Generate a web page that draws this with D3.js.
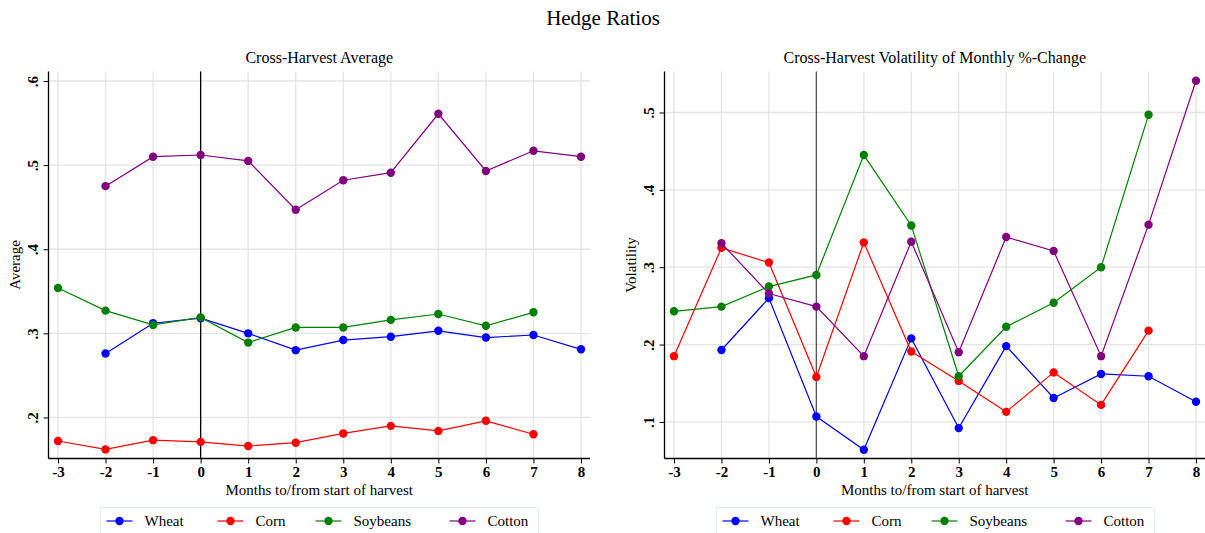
<!DOCTYPE html>
<html><head><meta charset="utf-8">
<script src="https://cdn.jsdelivr.net/npm/d3@7"></script>
<style>body{margin:0;background:#fff;} svg, svg text{font-family:"Liberation Serif","Times New Roman",Tinos,serif !important;}</style>
</head><body>
<svg id="c" width="1205" height="533"></svg>
<script>
const months = [-3,-2,-1,0,1,2,3,4,5,6,7,8];
const seriesNames = ["Wheat","Corn","Soybeans","Cotton"];
const seriesColors = ["#0000ff","#ff0000","#008000","#800080"];
// Cross-Harvest Average
const avgWheat    = [null,0.276,0.312,0.318,0.300,0.280,0.292,0.296,0.303,0.295,0.298,0.281];
const avgCorn     = [0.172,0.162,0.173,0.171,0.166,0.170,0.181,0.190,0.184,0.196,0.180,null];
const avgSoybeans = [0.354,0.327,0.310,0.319,0.289,0.307,0.307,0.316,0.323,0.309,0.325,null];
const avgCotton   = [null,0.475,0.510,0.512,0.505,0.447,0.482,0.491,0.561,0.493,0.517,0.510];
// Cross-Harvest Volatility of Monthly %-Change
const volWheat    = [null,0.193,0.260,0.107,0.064,0.208,0.092,0.198,0.131,0.162,0.159,0.126];
const volCorn     = [0.185,0.325,0.306,0.158,0.332,0.191,0.153,0.113,0.164,0.122,0.218,null];
const volSoybeans = [0.243,0.249,0.275,0.290,0.445,0.354,0.159,0.223,0.254,0.300,0.497,null];
const volCotton   = [null,0.331,0.266,0.249,0.185,0.333,0.190,0.339,0.321,0.185,0.355,0.541];
const avgTicks = [0.2,0.3,0.4,0.5,0.6];
const volTicks = [0.1,0.2,0.3,0.4,0.5];
const monthLabels = ["-3","-2","-1","0","1","2","3","4","5","6","7","8"];
const FONT = "Liberation Serif";
const fmt = v => String(Math.round(v*10)/10).replace(/^0/,"");

const svg = d3.select("#c");
svg.append("text").attr("x",603).attr("y",25).attr("text-anchor","middle")
  .attr("font-family",FONT).attr("font-size",21).text("Hedge Ratios");

function panel(opt){
  const g = svg.append("g").attr("font-family",FONT);
  const x = d3.scaleLinear().domain([-3,8]).range([opt.x0+9.5, opt.x1-9]);
  const y = d3.scaleLinear().domain(opt.ydom).range([opt.yb, opt.yt]);
  // grid
  g.append("g").selectAll("line").data(months).join("line")
    .attr("x1",d=>x(d)).attr("x2",d=>x(d)).attr("y1",opt.yt).attr("y2",opt.yb)
    .attr("stroke","#e4e4e4").attr("stroke-width",1.3);
  g.append("g").selectAll("line").data(opt.ticks).join("line")
    .attr("x1",opt.x0).attr("x2",opt.x1).attr("y1",d=>y(d)).attr("y2",d=>y(d))
    .attr("stroke","#e4e4e4").attr("stroke-width",1.3);
  // axes
  const xa = g.append("g").attr("transform",`translate(0,${opt.yb})`)
    .call(d3.axisBottom(x).tickValues(months).tickSize(5).tickFormat((d,i)=>monthLabels[i]));
  xa.attr("font-family",FONT);
  xa.select(".domain").attr("d",`M${opt.x0},0H${opt.x1}`).attr("stroke","#000").attr("stroke-width",1.3);
  xa.selectAll(".tick line").attr("stroke","#000");
  xa.selectAll(".tick text").attr("font-size",15).attr("font-family",FONT).attr("font-weight","bold").attr("dy","0.72em").attr("y",8);
  const ya = g.append("g").attr("transform",`translate(${opt.x0},0)`)
    .call(d3.axisLeft(y).tickValues(opt.ticks).tickSize(5).tickFormat(fmt));
  ya.attr("font-family",FONT);
  ya.select(".domain").attr("d",`M0,${opt.yt}V${opt.yb}`).attr("stroke","#000").attr("stroke-width",1.3);
  ya.selectAll(".tick line").attr("stroke","#000");
  ya.selectAll(".tick text").attr("font-size",15).attr("font-family",FONT).attr("font-weight","bold")
    .attr("x",null).attr("dy",null).attr("text-anchor","middle")
    .attr("transform","translate(-14,0) rotate(-90)").attr("dominant-baseline","middle");
  // zero line
  g.append("line").attr("x1",x(0)).attr("x2",x(0)).attr("y1",opt.yt).attr("y2",opt.yb)
    .attr("stroke",opt.zeroColor).attr("stroke-width",1.3);
  // titles
  g.append("text").attr("x",(opt.x0+opt.x1)/2).attr("y",63).attr("text-anchor","middle")
    .attr("font-size",16).text(opt.title);
  g.append("text").attr("x",(opt.x0+opt.x1)/2).attr("y",495).attr("text-anchor","middle")
    .attr("font-size",15).text("Months to/from start of harvest");
  g.append("text").attr("transform",`translate(${opt.x0-29},${(opt.yt+opt.yb)/2}) rotate(-90)`)
    .attr("text-anchor","middle").attr("font-size",15).text(opt.ylab);
  // series
  const line = d3.line().defined(d=>d.v!=null).x(d=>x(d.m)).y(d=>y(d.v));
  opt.series.forEach((vals,i)=>{
    const pts = months.map((m,j)=>({m,v:vals[j]}));
    g.append("path").datum(pts).attr("d",line).attr("fill","none")
      .attr("stroke",seriesColors[i]).attr("stroke-width",1.2);
    g.append("g").selectAll("circle").data(pts.filter(d=>d.v!=null)).join("circle")
      .attr("cx",d=>x(d.m)).attr("cy",d=>y(d.v)).attr("r",4.2).attr("fill",seriesColors[i]);
  });
  // legend
  const lx = opt.x0 + 52;
  const lg = g.append("g");
  lg.append("rect").attr("x",lx).attr("y",507.5).attr("width",438).attr("height",30)
    .attr("fill","#fff").attr("stroke","#e8eeee").attr("stroke-width",1);
  const offs = [0,111,209,343];
  seriesNames.forEach((n,i)=>{
    const ox = lx + 6 + offs[i];
    lg.append("line").attr("x1",ox).attr("x2",ox+26).attr("y1",521).attr("y2",521)
      .attr("stroke",seriesColors[i]).attr("stroke-width",1.2);
    lg.append("circle").attr("cx",ox+13).attr("cy",521).attr("r",4.2).attr("fill",seriesColors[i]);
    lg.append("text").attr("x",ox+38).attr("y",526).attr("font-size",15).text(n);
  });
}

panel({x0:48.5,x1:590,yt:71.5,yb:458.5,ydom:[0.1512,0.6113],ticks:avgTicks,
  title:"Cross-Harvest Average",ylab:"Average",zeroColor:"#000",
  series:[avgWheat,avgCorn,avgSoybeans,avgCotton]});
panel({x0:664.5,x1:1205,yt:71.5,yb:458.5,ydom:[0.0527,0.553],ticks:volTicks,
  title:"Cross-Harvest Volatility of Monthly %-Change",ylab:"Volatility",zeroColor:"#555",
  series:[volWheat,volCorn,volSoybeans,volCotton]});
</script>
</body></html>
